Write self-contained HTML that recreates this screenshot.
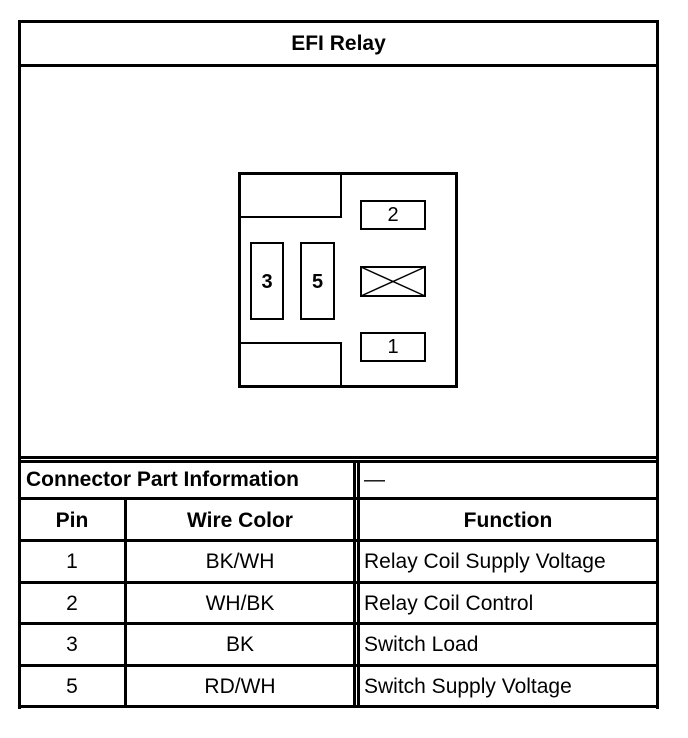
<!DOCTYPE html>
<html><head><style>
body{margin:0;background:#fff;width:688px;height:738px;position:relative;font-family:"Liberation Sans",Arial,sans-serif;overflow:hidden}
.a{position:absolute;background:#000}
.t{position:absolute;font-size:21px;color:#000;white-space:nowrap;line-height:24px}
.b{font-weight:bold}
.c{text-align:center}
.bx{position:absolute;border:2px solid #000;box-sizing:border-box}
</style></head><body>
<!-- outer frame -->
<div class="a" style="left:18px;top:20px;width:641px;height:3px"></div>
<div class="a" style="left:18px;top:20px;width:3px;height:689px"></div>
<div class="a" style="left:656px;top:20px;width:3px;height:689px"></div>
<div class="a" style="left:18px;top:705px;width:641px;height:3px"></div>
<div class="a" style="left:18px;top:64px;width:641px;height:3px"></div>
<div class="a" style="left:18px;top:456px;width:641px;height:3px"></div>
<div class="a" style="left:18px;top:460px;width:641px;height:3px"></div>
<div class="a" style="left:18px;top:497px;width:641px;height:3px"></div>
<div class="a" style="left:18px;top:539px;width:641px;height:3px"></div>
<div class="a" style="left:18px;top:581px;width:641px;height:3px"></div>
<div class="a" style="left:18px;top:622px;width:641px;height:3px"></div>
<div class="a" style="left:18px;top:664px;width:641px;height:3px"></div>
<div class="a" style="left:124px;top:498px;width:3px;height:210px"></div>
<div class="a" style="left:353px;top:460px;width:3px;height:248px"></div>
<div class="a" style="left:357px;top:460px;width:3px;height:248px"></div>
<div class="t b c" style="left:18px;top:32px;width:641px">EFI Relay</div>
<div class="t b" style="left:26px;top:468px">Connector Part Information</div>
<div class="t" style="left:364px;top:468px">—</div>
<div class="t b c" style="left:20px;top:509px;width:104px">Pin</div>
<div class="t b c" style="left:127px;top:509px;width:226px">Wire Color</div>
<div class="t b c" style="left:360px;top:509px;width:296px">Function</div>
<div class="t c" style="left:20px;top:550px;width:104px">1</div>
<div class="t c" style="left:127px;top:550px;width:226px">BK/WH</div>
<div class="t" style="left:364px;top:550px">Relay Coil Supply Voltage</div>
<div class="t c" style="left:20px;top:592px;width:104px">2</div>
<div class="t c" style="left:127px;top:592px;width:226px">WH/BK</div>
<div class="t" style="left:364px;top:592px">Relay Coil Control</div>
<div class="t c" style="left:20px;top:633px;width:104px">3</div>
<div class="t c" style="left:127px;top:633px;width:226px">BK</div>
<div class="t" style="left:364px;top:633px">Switch Load</div>
<div class="t c" style="left:20px;top:675px;width:104px">5</div>
<div class="t c" style="left:127px;top:675px;width:226px">RD/WH</div>
<div class="t" style="left:364px;top:675px">Switch Supply Voltage</div>
<!-- connector -->
<div class="bx" style="left:238px;top:172px;width:220px;height:216px;border-width:3px"></div>
<div class="a" style="left:238px;top:216px;width:104px;height:2px"></div>
<div class="a" style="left:340px;top:172px;width:2px;height:46px"></div>
<div class="a" style="left:238px;top:342px;width:104px;height:2px"></div>
<div class="a" style="left:340px;top:342px;width:2px;height:46px"></div>
<div class="bx" style="left:250px;top:242px;width:34px;height:78px"></div>
<div class="bx" style="left:300px;top:242px;width:35px;height:78px"></div>
<div class="t b c" style="left:250px;top:270px;width:34px;font-size:20px">3</div>
<div class="t b c" style="left:300px;top:270px;width:35px;font-size:20px">5</div>
<div class="bx" style="left:360px;top:200px;width:66px;height:30px"></div>
<div class="t c" style="left:360px;top:203px;width:66px;font-size:20px">2</div>
<div class="bx" style="left:360px;top:332px;width:66px;height:30px"></div>
<div class="t c" style="left:360px;top:335px;width:66px;font-size:20px">1</div>
<svg style="position:absolute;left:360px;top:266px" width="66" height="31"><rect x="1" y="1" width="64" height="29" fill="none" stroke="#000" stroke-width="2"/><line x1="1" y1="1" x2="65" y2="30" stroke="#000" stroke-width="1.5"/><line x1="1" y1="30" x2="65" y2="1" stroke="#000" stroke-width="1.5"/></svg>
</body></html>
